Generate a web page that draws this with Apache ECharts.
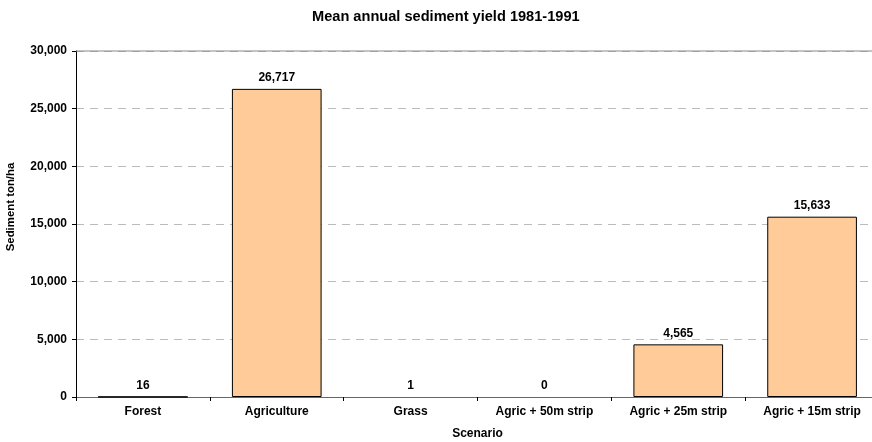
<!DOCTYPE html>
<html>
<head>
<meta charset="utf-8">
<script src="https://cdn.jsdelivr.net/npm/echarts@6/dist/echarts.min.js"></script>
<style>
  html, body { margin: 0; padding: 0; background: #fff; }
  #chart { width: 872px; height: 442px; }
</style>
</head>
<body>
<div id="chart"></div>
<script>
// Scenarios and mean annual sediment yield (ton/ha), 1981-1991
const scenarios = ['Forest', 'Agriculture', 'Grass', 'Agric + 50m strip', 'Agric + 25m strip', 'Agric + 15m strip'];
const sedimentYield = [16, 26717, 1, 0, 4565, 15633];
const yTicks = [0, 5000, 10000, 15000, 20000, 25000, 30000];

const font = '"Liberation Sans", Arial, sans-serif';
const fmt = v => v.toLocaleString('en-US');

const chart = echarts.init(document.getElementById('chart'), null, { renderer: 'canvas' });
chart.setOption({
  animation: false,
  backgroundColor: '#ffffff',
  title: {
    text: 'Mean annual sediment yield 1981-1991',
    left: 307,
    top: 4,
    textStyle: { fontFamily: font, fontSize: 14.6, fontWeight: 'bold', color: '#000' }
  },
  // plot area runs slightly past the right edge of the canvas
  grid: { left: 76, right: -7, top: 51, bottom: 45, containLabel: false, outerBoundsMode: 'none' },
  xAxis: {
    type: 'category',
    data: scenarios,
    name: 'Scenario',
    nameLocation: 'middle',
    nameGap: 31,
    nameTextStyle: { fontFamily: font, fontSize: 12, fontWeight: 'bold', color: '#000' },
    axisLine: { lineStyle: { color: '#666', width: 1 } },
    axisTick: { show: true, length: 4, lineStyle: { color: '#000' } },
    axisLabel: { fontFamily: font, fontSize: 12, fontWeight: 'bold', color: '#000', margin: 9, interval: 0 }
  },
  yAxis: {
    type: 'value',
    min: yTicks[0],
    max: yTicks[yTicks.length - 1],
    interval: 5000,
    name: 'Sediment ton/ha',
    nameLocation: 'middle',
    nameGap: 60,
    // left padding lifts the rotated title a little above the axis middle
    nameTextStyle: { fontFamily: font, fontSize: 11.4, fontWeight: 'bold', color: '#000', padding: [0, 0, 0, 34] },
    axisLine: { show: true, lineStyle: { color: '#000', width: 1 } },
    axisTick: { show: true, length: 4, lineStyle: { color: '#000' } },
    axisLabel: { fontFamily: font, fontSize: 12, fontWeight: 'bold', color: '#000', margin: 9, formatter: fmt },
    splitLine: {
      show: true,
      lineStyle: {
        color: '#bbb',
        width: 1,
        type: [8, 6]
      }
    }
  },
  series: [{
    type: 'bar',
    data: sedimentYield.map(v => ({
      value: v,
      itemStyle: v < 10 ? { borderWidth: 0 } : {}
    })),
    barWidth: '67%',
    itemStyle: { color: '#FFCC99', borderColor: '#000', borderWidth: 1 },
    label: {
      show: true,
      position: 'top',
      distance: 5,
      fontFamily: font,
      fontSize: 12,
      fontWeight: 'bold',
      color: '#000',
      formatter: p => fmt(p.value)
    }
  }],
  graphic: [{
    type: 'line',
    shape: { x1: 76, y1: 51, x2: 872, y2: 51 },
    style: { stroke: '#888', lineWidth: 1 },
    z: 10
  }]
});
</script>
</body>
</html>
